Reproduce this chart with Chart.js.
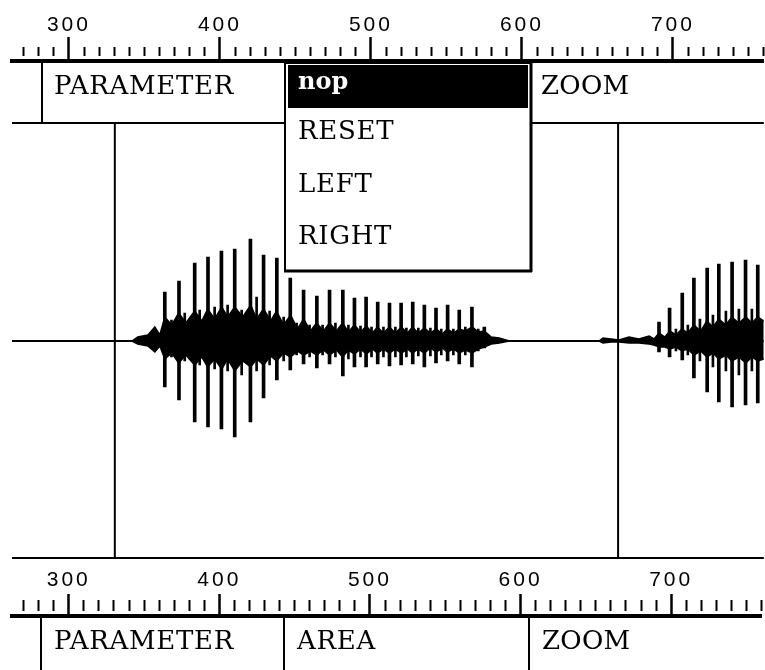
<!DOCTYPE html>
<html>
<head>
<meta charset="utf-8">
<title>Signal editor</title>
<script src="https://cdn.jsdelivr.net/npm/chart.js@4.4.1/dist/chart.umd.min.js"></script>
<style>
    html, body { margin: 0; padding: 0; background: #fff; }
    canvas { display: block; }
</style>
</head>
<body>
<canvas id="waveChart" width="765" height="559"></canvas>
<canvas id="areaChart" width="765" height="111"></canvas>
<script>
// time ruler
const timeMin = 262.3;
const timeMax = 760.2;
const tickStep = 10;
const tickLabels = [300, 400, 500, 600, 700];

// the two cursor marks
const cursorTimes = [330.4, 663.7];

// pitch pulses: time, peak above and below the zero line
const pulseTimes = [363.5, 372.9, 383.3, 392.1, 401.0, 409.8, 420.2, 428.9, 437.7, 446.6,
    455.4, 464.2, 472.6, 481.4, 489.1, 496.8, 504.5, 512.3, 520.0, 527.7, 535.4, 543.1,
    550.8, 558.5, 566.9, 575.1,
    690.8, 697.8, 706.2, 713.9, 722.7, 730.4, 739.2, 748.1, 756.2];
const pulseUp = [49, 60, 78, 84, 90, 92, 102, 86, 83, 63, 51, 45, 51, 51, 43, 44, 39, 38,
    38, 39, 36, 33, 36, 31, 34, 14,
    19, 33, 48, 63, 73, 77, 79, 81, 76];
const pulseDown = [46, 59, 81, 86, 88, 96, 81, 57, 39, 29, 23, 27, 23, 35, 26, 26, 23, 25,
    24, 23, 26, 22, 20, 23, 26, 7,
    11, 16, 19, 37, 51, 61, 66, 64, 62];

// smaller ringing peaks after each pulse
const echoTimes = [367.9, 376.7, 386.6, 396.5, 405.1, 414.4, 424.3, 432.9, 442.2, 450.8,
    459.4, 468.0, 476.5, 485.1, 493.1, 500.4, 508.3, 516.2, 523.5, 531.4, 539.4, 546.6,
    554.6, 562.5, 571.1,
    702.0, 709.9, 717.9, 726.5, 735.1, 743.7, 752.3];
const echoUp = [21, 28, 31, 34, 36, 31, 44, 30, 24, 18, 16, 16, 18, 16, 15, 14, 14, 14,
    13, 13, 13, 12, 12, 14, 12,
    12, 16, 22, 26, 30, 32, 32];
const echoDown = [16, 20, 24, 28, 30, 34, 30, 24, 20, 14, 16, 14, 16, 18, 16, 16, 16, 16,
    16, 15, 15, 14, 14, 14, 10,
    10, 14, 20, 26, 30, 34, 30];

// dense body of the signal between the pulses
const bodyTimes = [341.7, 345.6, 352.3, 356.9, 360.2, 363.5, 368.1, 372.7, 377.4, 383.3,
    388.0, 391.9, 396.5, 401.2, 405.1, 409.8, 415.1, 420.4, 424.3, 428.9, 433.6, 437.5,
    442.2, 446.8, 451.4, 455.4, 460.0, 464.0, 468.6, 472.6, 477.2, 481.2, 485.1, 489.1,
    493.1, 497.0, 501.0, 504.3, 508.3, 512.3, 516.2, 520.2, 524.2, 527.5, 531.4, 535.4,
    539.4, 543.3, 547.3, 550.6, 554.6, 558.5, 562.5, 567.1, 571.1, 575.1, 579.7, 585.0,
    591.6,
    651.1, 653.7, 659.0, 664.3, 670.9, 677.5, 684.2, 687.5, 690.8, 694.7, 698.0, 702.0,
    706.0, 709.9, 713.9, 718.5, 722.5, 726.5, 730.4, 735.1, 739.0, 743.7, 748.3, 752.3,
    756.2, 760.2];
const bodyUp = [0, 4, 6, 14, 6, 24, 16, 28, 18, 30, 20, 32, 22, 34, 24, 34, 24, 36, 22,
    32, 20, 30, 16, 26, 12, 22, 10, 18, 10, 18, 10, 18, 9, 16, 9, 15, 8, 14, 8, 14, 8, 14,
    8, 14, 8, 13, 8, 12, 7, 12, 8, 12, 10, 14, 9, 10, 4, 3, 0,
    0, 3, 2, 1, 4, 2, 5, 2, 8, 4, 10, 6, 12, 8, 16, 10, 20, 14, 22, 16, 24, 18, 24, 18,
    24, 20];
const bodyDown = [0, 3, 5, 11, 5, 18, 12, 22, 14, 24, 16, 26, 18, 28, 18, 30, 20, 26, 18,
    24, 15, 20, 12, 16, 10, 14, 10, 14, 9, 14, 9, 16, 9, 13, 8, 13, 8, 12, 8, 12, 8, 12,
    8, 12, 8, 12, 7, 11, 7, 11, 8, 12, 9, 12, 8, 6, 3, 2, 0,
    0, 2, 1, 1, 2, 2, 3, 4, 6, 6, 8, 6, 10, 8, 14, 10, 16, 12, 18, 14, 20, 16, 22, 16,
    20, 18];

// texts of the menu rows and the pop-up menu
const topRowLabels = ['PARAMETER', 'ZOOM'];
const menuItems = ['nop', 'RESET', 'LEFT', 'RIGHT'];
const bottomRowLabels = ['PARAMETER', 'AREA', 'ZOOM'];

const INK = '#000';
const rowFont = '26px "DejaVu Serif"';
const rowSpacing = '0.7px';

function isLabelled(value) {
    return tickLabels.includes(value);
}

// ruler axis shared by both charts
function rulerAxis(height, tickLength, minorGap, minorLen, padding) {
    return {
        type: 'linear',
        position: 'top',
        weight: 10,
        min: timeMin,
        max: timeMax,
        offset: false,
        afterFit: function(scale) { scale.height = height; },
        ticks: {
            stepSize: tickStep,
            autoSkip: false,
            maxRotation: 0,
            minRotation: 0,
            includeBounds: false,
            padding: padding,
            color: INK,
            font: { family: 'Liberation Sans', size: 21, lineHeight: 1 },
            callback: function(value) { return isLabelled(value) ? String(value) : ''; }
        },
        grid: {
            offset: false,
            drawOnChartArea: false,
            drawTicks: true,
            tickLength: tickLength,
            tickColor: INK,
            tickWidth: function(c) { return c.tick && isLabelled(c.tick.value) ? 2.5 : 2; },
            tickBorderDash: function(c) {
                return c.tick && isLabelled(c.tick.value) ? [] : [0, minorGap, minorLen, 200];
            }
        },
        border: { display: true, color: INK, width: 4 }
    };
}

function line(ctx, x1, y1, x2, y2) {
    ctx.beginPath();
    ctx.moveTo(x1, y1);
    ctx.lineTo(x2, y2);
    ctx.stroke();
}

function label(ctx, text, x, y, font, color, spacing) {
    ctx.save();
    ctx.font = font;
    ctx.fillStyle = color;
    ctx.letterSpacing = spacing;
    ctx.textAlign = 'left';
    ctx.textBaseline = 'middle';
    ctx.fillText(text, x, y);
    ctx.restore();
}

// spaced digits on the rulers
const rulerSpacing = {
    id: 'rulerSpacing',
    beforeDraw: function(chart) { chart.ctx.letterSpacing = '3px'; }
};

// frame, menu row and the open pop-up menu of the upper panel
const upperFrame = {
    id: 'upperFrame',
    afterDraw: function(chart) {
        const ctx = chart.ctx;
        const a = chart.chartArea;
        const row = chart.scales.xRow;
        ctx.save();
        ctx.letterSpacing = '0px';
        ctx.strokeStyle = INK;
        ctx.lineWidth = 2;
        line(ctx, a.left, a.top, a.right, a.top);
        line(ctx, a.left, a.bottom - 1, a.right, a.bottom - 1);
        line(ctx, 42, row.top, 42, row.bottom);
        label(ctx, topRowLabels[0], 54, row.top + 26, rowFont, INK, rowSpacing);
        label(ctx, topRowLabels[1], 541, row.top + 26, rowFont, INK, '0.3px');

        // pop-up menu
        const mx = 284, my = row.top + 2, mw = 248, mh = 208;
        ctx.fillStyle = '#fff';
        ctx.fillRect(mx, my, mw, mh);
        ctx.lineWidth = 2;
        ctx.strokeRect(mx + 1, my, mw - 2, mh);
        ctx.lineWidth = 3;
        line(ctx, mx + mw - 1, my, mx + mw - 1, my + mh + 1);
        line(ctx, mx, my + mh, mx + mw, my + mh);
        ctx.fillStyle = INK;
        ctx.fillRect(mx + 4, my + 2, mw - 8, 43);
        label(ctx, menuItems[0], 298, my + 20, 'bold 24px "DejaVu Serif"', '#fff', '0px');
        const itemY = [132, 185, 237];
        for (let i = 1; i < menuItems.length; i++) {
            label(ctx, menuItems[i], 298, itemY[i - 1], rowFont, INK, rowSpacing);
        }
        ctx.restore();
    }
};

// dividers and texts of the lower menu row
const lowerRow = {
    id: 'lowerRow',
    afterDraw: function(chart) {
        const ctx = chart.ctx;
        const a = chart.chartArea;
        const cols = [41, 284, 529];
        ctx.save();
        ctx.letterSpacing = '0px';
        ctx.strokeStyle = INK;
        ctx.lineWidth = 2;
        cols.forEach(function(x, i) {
            line(ctx, x, a.top, x, a.bottom);
            label(ctx, bottomRowLabels[i], x + 13, a.top + 26, rowFont, INK,
                bottomRowLabels[i] === 'ZOOM' ? '0.3px' : rowSpacing);
        });
        ctx.restore();
    }
};

const baseline = [{ x: timeMin, y: 0 }, { x: timeMax, y: 0 }];
const bodyTop = bodyTimes.map(function(t, i) { return { x: t, y: bodyUp[i] }; });
const bodyBottom = bodyTimes.map(function(t, i) { return { x: t, y: -bodyDown[i] }; });
const pulses = pulseTimes.map(function(t, i) { return { x: t, y: [-pulseDown[i], pulseUp[i]] }; });
const echoes = echoTimes.map(function(t, i) { return { x: t, y: [-echoDown[i], echoUp[i]] }; });
const cursors = cursorTimes.map(function(t) {
    return {
        type: 'line',
        data: [{ x: t, y: -218 }, { x: t, y: 218 }],
        borderColor: INK,
        borderWidth: 2,
        pointRadius: 0
    };
});

new Chart(document.getElementById('waveChart').getContext('2d'), {
    type: 'line',
    data: {
        datasets: [
            { data: baseline, borderColor: INK, borderWidth: 2, pointRadius: 0 },
            { data: bodyTop, borderColor: INK, borderWidth: 1.5, pointRadius: 0, fill: '+1', backgroundColor: INK },
            { data: bodyBottom, borderColor: INK, borderWidth: 1.5, pointRadius: 0 },
            { type: 'bar', data: pulses, backgroundColor: INK, barThickness: 3, grouped: false },
            { type: 'bar', data: echoes, backgroundColor: INK, barThickness: 2, grouped: false }
        ].concat(cursors)
    },
    options: {
        responsive: false,
        devicePixelRatio: 1,
        animation: false,
        events: [],
        layout: { padding: { left: 12, right: 0, top: 0, bottom: 0 } },
        plugins: { legend: { display: false }, tooltip: { enabled: false } },
        scales: {
            x: rulerAxis(61, 24, 10, 9, 1.5),
            xRow: {
                type: 'linear',
                position: 'top',
                weight: 0,
                min: 0,
                max: 1,
                afterFit: function(scale) { scale.height = 62; },
                ticks: { display: false },
                grid: { display: false, drawTicks: false },
                border: { display: false }
            },
            y: { min: -218, max: 218, display: false }
        }
    },
    plugins: [rulerSpacing, upperFrame]
});

new Chart(document.getElementById('areaChart').getContext('2d'), {
    type: 'line',
    data: { datasets: [] },
    options: {
        responsive: false,
        devicePixelRatio: 1,
        animation: false,
        events: [],
        layout: { padding: { left: 12, right: 0, top: 0, bottom: 0 } },
        plugins: { legend: { display: false }, tooltip: { enabled: false } },
        scales: {
            x: rulerAxis(57, 22, 6, 11, 3.5),
            y: { min: 0, max: 1, display: false }
        }
    },
    plugins: [rulerSpacing, lowerRow]
});
</script>
</body>
</html>
